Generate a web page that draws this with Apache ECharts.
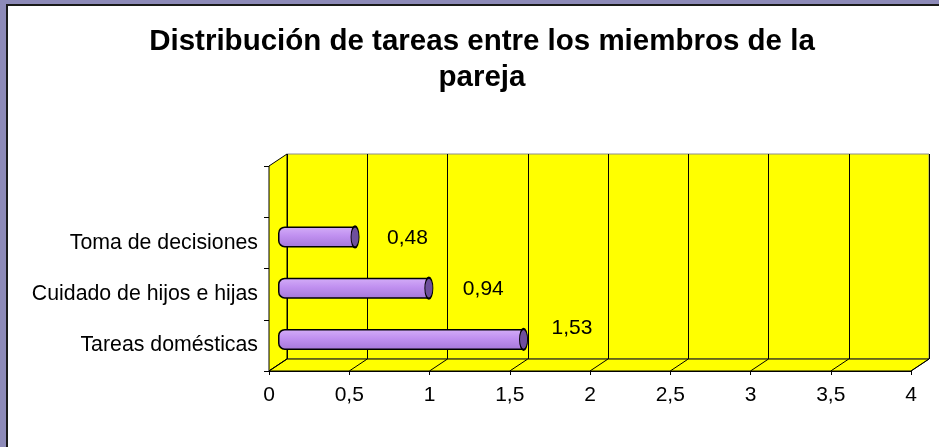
<!DOCTYPE html>
<html>
<head>
<meta charset="utf-8">
<script src="https://cdn.jsdelivr.net/npm/echarts@6/dist/echarts.min.js"></script>
<style>
html, body { margin: 0; padding: 0; }
body { width: 939px; height: 447px; background: #8d8ab8; position: relative; overflow: hidden; }
.panel { position: absolute; left: 6px; top: 4px; width: 960px; height: 470px; background: #fff; border-left: 2px solid #1a1a1a; border-top: 2px solid #1a1a1a; }
#chart { position: absolute; left: 0; top: 0; width: 939px; height: 447px; }
</style>
</head>
<body>
<div class="panel"></div>
<div id="chart"></div>
<script>
// datos
const categories = ['Tareas domésticas', 'Cuidado de hijos e hijas', 'Toma de decisiones', ''];
const values = [1.53, 0.94, 0.48, null];
const xTicks = [0, 0.5, 1, 1.5, 2, 2.5, 3, 3.5, 4];

// layout of the pseudo 3D box
const FRONT = { left: 269, top: 166, width: 642, height: 205 };
const DX = 18, DY = -12;
const BACK = { left: FRONT.left + DX, top: FRONT.top + DY, width: FRONT.width, height: FRONT.height };
const MID = { left: FRONT.left + DX / 2, top: FRONT.top + DY / 2, width: FRONT.width, height: FRONT.height };
const labelNudge = [[23, -11], [29, 1], [27, 1], [0, 0]];

const FONT = 'Liberation Sans, Arial, sans-serif';
const comma = v => String(v).replace('.', ',');

const chart = echarts.init(document.getElementById('chart'));

const xBase = {
    type: 'value',
    min: xTicks[0],
    max: xTicks[xTicks.length - 1],
    interval: xTicks[1] - xTicks[0]
};

chart.setOption({
    backgroundColor: 'transparent',
    animation: false,
    title: {
        text: 'Distribución de tareas entre los miembros de la\npareja',
        left: 482,
        top: 24,
        textAlign: 'center',
        padding: 0,
        textStyle: {
            fontFamily: FONT,
            fontSize: 29.5,
            fontWeight: 'bold',
            color: '#000',
            lineHeight: 36
        }
    },
    grid: [
        { ...BACK, show: true, backgroundColor: '#ffff00', borderColor: '#8c8c8c', borderWidth: 1 },
        { ...FRONT },
        { ...MID }
    ],
    xAxis: [
        {
            ...xBase,
            gridIndex: 0,
            axisLine: { show: false },
            axisTick: { show: false },
            axisLabel: { show: false },
            splitLine: { show: true, lineStyle: { color: '#000', width: 1 } }
        },
        {
            ...xBase,
            gridIndex: 1,
            axisLine: { show: true, lineStyle: { color: '#000', width: 1 } },
            axisTick: { show: true, length: 4, lineStyle: { color: '#000' } },
            axisLabel: { fontFamily: FONT, fontSize: 21, color: '#000', margin: 14, formatter: comma },
            splitLine: { show: false }
        },
        {
            ...xBase,
            gridIndex: 2,
            show: false
        }
    ],
    yAxis: [
        { type: 'category', gridIndex: 0, data: categories, show: false },
        {
            type: 'category',
            gridIndex: 1,
            data: categories,
            axisLine: { show: true, lineStyle: { color: '#000', width: 1 } },
            axisTick: { show: true, length: 5, lineStyle: { color: '#000' } },
            axisLabel: { fontFamily: FONT, fontSize: 21.3, color: '#000', margin: 11 }
        },
        { type: 'category', gridIndex: 2, data: categories, show: false }
    ],
    series: [
        {
            type: 'bar',
            xAxisIndex: 2,
            yAxisIndex: 2,
            barWidth: 21,
            z: 3,
            data: values.map((v, i) => ({ value: v, label: { offset: labelNudge[i] } })),
            itemStyle: {
                color: new echarts.graphic.LinearGradient(0, 0, 0, 1, [
                    { offset: 0, color: '#d4aef8' },
                    { offset: 0.45, color: '#c090f0' },
                    { offset: 1, color: '#a577d8' }
                ]),
                borderColor: '#000',
                borderWidth: 1.5,
                borderRadius: [6, 0, 0, 6]
            },
            label: {
                show: true,
                position: 'right',
                distance: 5,
                fontFamily: FONT,
                fontSize: 21,
                color: '#000',
                formatter: p => p.value.toFixed(2).replace('.', ',')
            }
        },
        {
            // extremo del cilindro
            type: 'scatter',
            xAxisIndex: 2,
            yAxisIndex: 2,
            z: 4,
            symbol: 'circle',
            symbolSize: [8, 21],
            data: values.map((v, i) => (v == null ? null : [v, i])).filter(d => d),
            itemStyle: { color: '#6e4f9c', borderColor: '#000', borderWidth: 1.5, opacity: 1 }
        }
    ]
});

// paredes y suelo del efecto 3D
const fy = FRONT.top + FRONT.height;
const by = BACK.top + BACK.height;
const pxFront = v => chart.convertToPixel({ xAxisIndex: 1 }, v);
const pxBack = v => chart.convertToPixel({ xAxisIndex: 0 }, v);

const graphics = [
    {
        type: 'polygon',
        z: 1,
        shape: { points: [[FRONT.left, fy], [FRONT.left, FRONT.top], [BACK.left, BACK.top], [BACK.left, by]] },
        style: { fill: '#ffff00', stroke: '#000', lineWidth: 1 }
    },
    {
        type: 'polygon',
        z: 1,
        shape: { points: [[FRONT.left, fy], [FRONT.left + FRONT.width, fy], [BACK.left + BACK.width, by], [BACK.left, by]] },
        style: { fill: '#ffff00', stroke: '#000', lineWidth: 1 }
    }
];
xTicks.forEach(t => {
    graphics.push({
        type: 'line',
        z: 1,
        shape: { x1: pxFront(t), y1: fy, x2: pxBack(t), y2: by },
        style: { stroke: '#000', lineWidth: 1 }
    });
});
chart.setOption({ graphic: graphics });
</script>
</body>
</html>
